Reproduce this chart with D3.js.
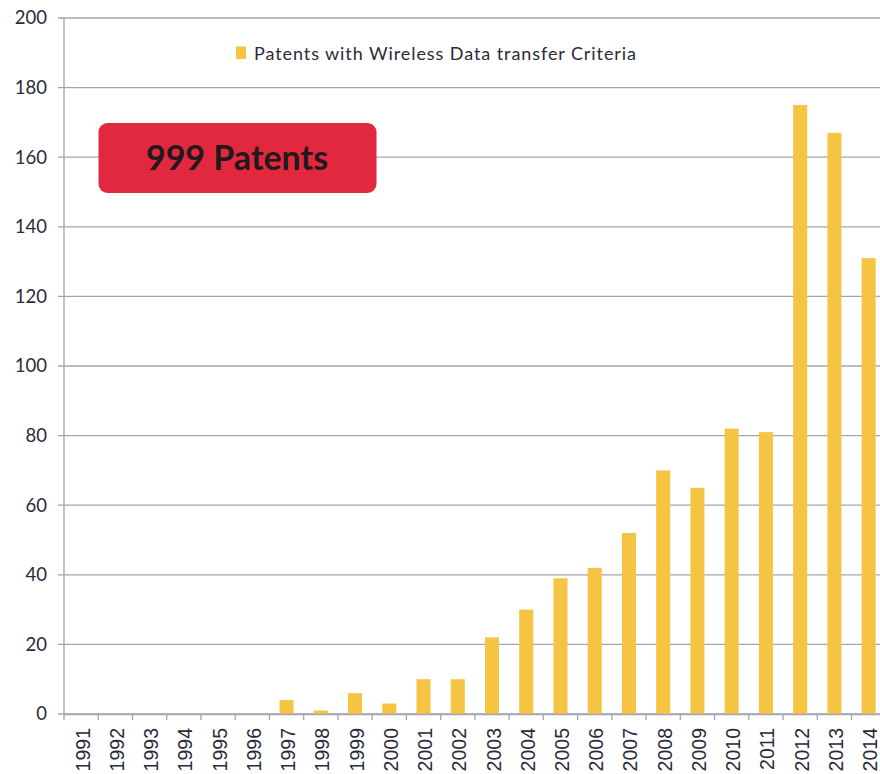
<!DOCTYPE html>
<html>
<head>
<meta charset="utf-8">
<script src="https://cdn.jsdelivr.net/npm/d3@7"></script>
<style>
  html, body { margin: 0; padding: 0; background: #ffffff; }
  svg { display: block; }
</style>
</head>
<body>
<svg id="chart" width="880" height="774"></svg>
<script>
// Yearly counts of patents with wireless data transfer criteria
const years = ["1991","1992","1993","1994","1995","1996","1997","1998","1999","2000",
               "2001","2002","2003","2004","2005","2006","2007","2008","2009","2010",
               "2011","2012","2013","2014"];
const patents = [0, 0, 0, 0, 0, 0, 4, 1, 6, 3,
                 10, 10, 22, 30, 39, 42, 52, 70, 65, 82,
                 81, 175, 167, 131];
const yTicks = [0, 20, 40, 60, 80, 100, 120, 140, 160, 180, 200];
const seriesName = "Patents with Wireless Data transfer Criteria";
const totalLabel = "999 Patents";

const svg = d3.select("#chart");
const plotLeft = 64, plotTop = 18, plotBottom = 714;
const band = 34.24;

const x = d3.scaleBand()
  .domain(years)
  .range([plotLeft, plotLeft + band * years.length])
  .paddingInner(0.59)
  .paddingOuter(0.295);

const y = d3.scaleLinear().domain([0, 200]).range([plotBottom, plotTop]);

const gridColor = "#a3a3b6";
const textColor = "#2b2a3a";

// horizontal gridlines
svg.append("g")
  .selectAll("line")
  .data(yTicks)
  .join("line")
  .attr("x1", plotLeft - 6)
  .attr("x2", 880)
  .attr("y1", d => y(d))
  .attr("y2", d => y(d))
  .attr("stroke", gridColor)
  .attr("stroke-width", 1.3);

// y axis labels
const yAxis = d3.axisLeft(y).tickValues(yTicks).tickSize(0).tickPadding(17);
const gy = svg.append("g").attr("transform", `translate(${plotLeft},0)`).call(yAxis);
gy.select(".domain").remove();
gy.selectAll("text")
  .attr("fill", textColor)
  .style("font-family", "Lato, 'Open Sans', sans-serif")
  .style("font-size", "18.5px");

// vertical axis line
svg.append("line")
  .attr("x1", plotLeft).attr("x2", plotLeft)
  .attr("y1", plotTop).attr("y2", plotBottom)
  .attr("stroke", gridColor).attr("stroke-width", 1.3);

// bars
svg.append("g")
  .selectAll("rect")
  .data(years.map((yr, i) => ({ yr, v: patents[i] })))
  .join("rect")
  .attr("x", d => x(d.yr))
  .attr("y", d => y(d.v))
  .attr("width", x.bandwidth())
  .attr("height", d => plotBottom - y(d.v))
  .attr("fill", "#f5c443");

// x axis with category tick marks between bars
const xAxis = d3.axisBottom(x).tickSize(0).tickPadding(0);
const gx = svg.append("g").attr("transform", `translate(0,${plotBottom})`).call(xAxis);
gx.select(".domain").attr("stroke", gridColor).attr("stroke-width", 1.3);
gx.selectAll("text")
  .attr("fill", textColor)
  .attr("text-anchor", "end")
  .attr("dominant-baseline", "central")
  .attr("transform", "translate(1.5,14) rotate(-90)")
  .attr("dy", null)
  .attr("y", 0)
  .style("font-family", "'Liberation Sans', Arial, sans-serif")
  .style("font-size", "19.5px");

svg.append("g")
  .selectAll("line")
  .data(d3.range(years.length + 1))
  .join("line")
  .attr("x1", i => plotLeft + band * i)
  .attr("x2", i => plotLeft + band * i)
  .attr("y1", plotBottom)
  .attr("y2", plotBottom + 6)
  .attr("stroke", gridColor)
  .attr("stroke-width", 1.3);

// legend
svg.append("rect")
  .attr("x", 236).attr("y", 46.5)
  .attr("width", 10).attr("height", 12.5)
  .attr("fill", "#f5c443");
svg.append("text")
  .attr("x", 254).attr("y", 60)
  .attr("textLength", 382)
  .attr("lengthAdjust", "spacing")
  .attr("fill", textColor)
  .style("font-family", "Lato, 'Open Sans', sans-serif")
  .style("font-size", "18px")
  .text(seriesName);

// total callout
svg.append("rect")
  .attr("x", 98.5).attr("y", 123)
  .attr("width", 278).attr("height", 70)
  .attr("rx", 9).attr("ry", 9)
  .attr("fill", "#e2283e");
svg.append("text")
  .attr("x", 237).attr("y", 169.5)
  .attr("text-anchor", "middle")
  .attr("fill", "#23181c")
  .style("font-family", "Lato, 'Open Sans', sans-serif")
  .style("font-weight", "bold")
  .style("font-size", "34px")
  .text(totalLabel);
</script>
</body>
</html>
